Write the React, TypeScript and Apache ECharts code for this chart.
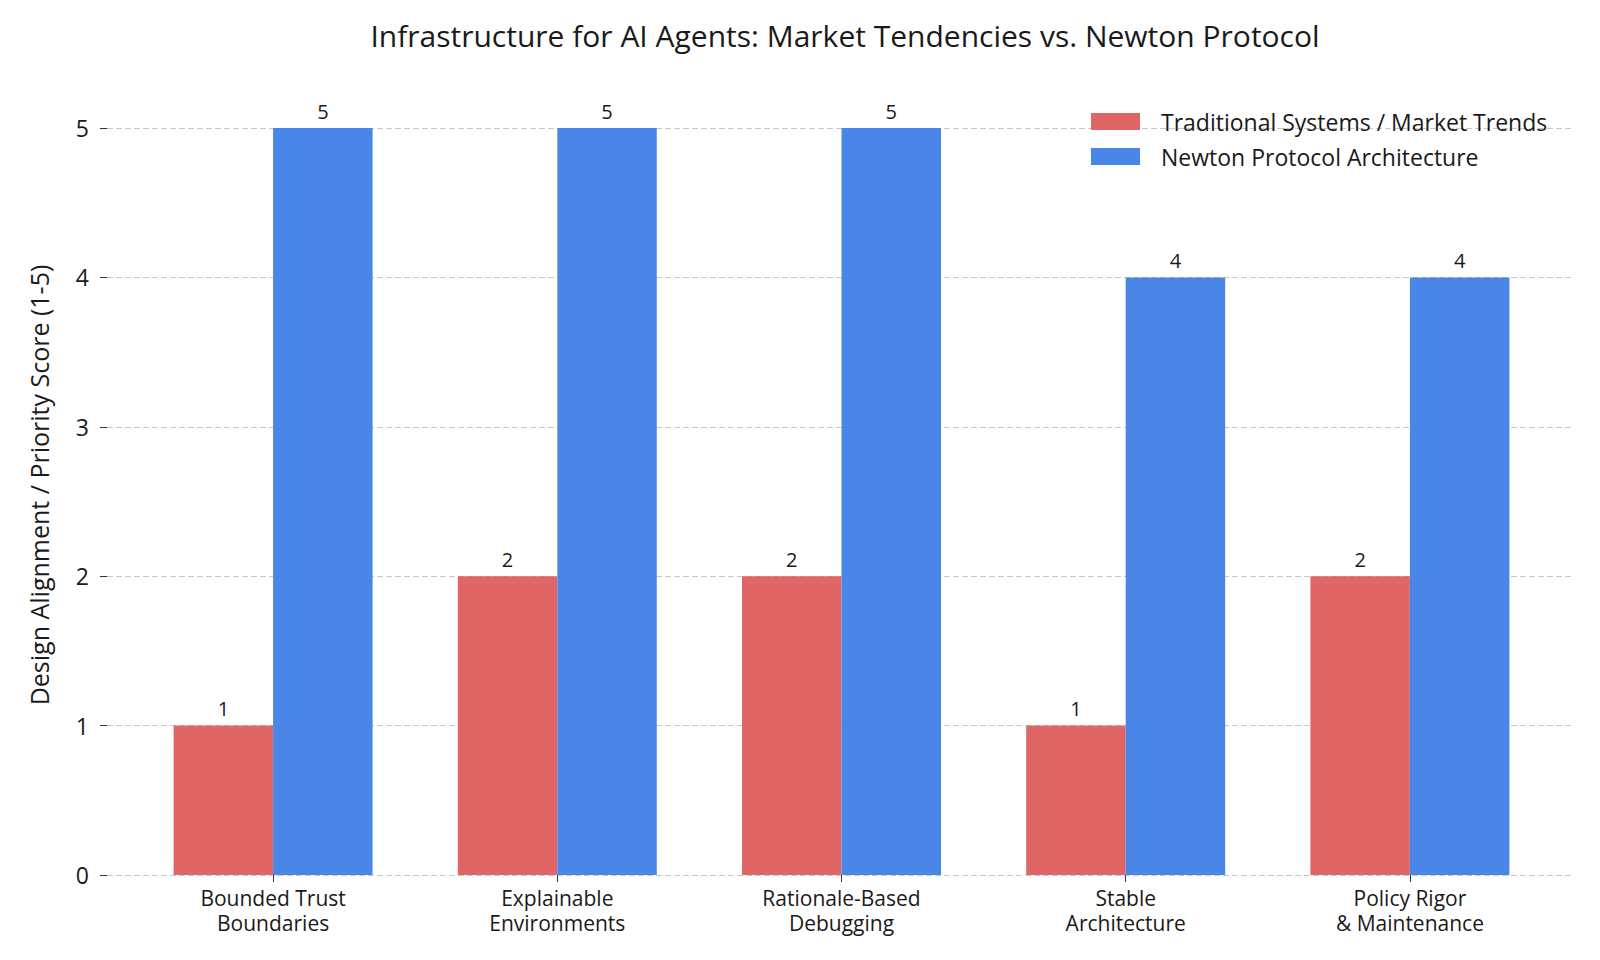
import React, { useEffect, useRef } from "react";
import * as echarts from "echarts";

const categories = [
  "Bounded Trust\nBoundaries",
  "Explainable\nEnvironments",
  "Rationale-Based\nDebugging",
  "Stable\nArchitecture",
  "Policy Rigor\n& Maintenance",
];
const traditionalValues = [1, 2, 2, 1, 2];
const newtonValues = [5, 5, 5, 4, 4];
const seriesNames = ["Traditional Systems / Market Trends", "Newton Protocol Architecture"];
const yTicks = [0, 1, 2, 3, 4, 5];
const titleText = "Infrastructure for AI Agents: Market Tendencies vs. Newton Protocol";
const yAxisTitle = "Design Alignment / Priority Score (1-5)";

const FONT = "'Open Sans', Roboto, sans-serif";
const RED = "#E06666";
const BLUE = "#4A86E8";
const TEXT = "#1a1a1a";

export default function App() {
  const ref = useRef<HTMLDivElement>(null);
  useEffect(() => {
    document.body.style.margin = "0";
    const chart = echarts.init(ref.current!, undefined, { renderer: "svg" });
    const labelStyle = {
      show: true,
      position: "top" as const,
      distance: 7,
      fontSize: 20,
      color: TEXT,
      fontFamily: FONT,
    };
    chart.setOption({
      animation: false,
      backgroundColor: "#ffffff",
      textStyle: { fontFamily: FONT },
      title: {
        text: titleText,
        left: 840,
        top: 15,
        textAlign: "center",
        textStyle: { fontSize: 30, fontWeight: "normal", color: TEXT, fontFamily: FONT },
      },
      legend: {
        orient: "vertical",
        left: 1091,
        top: 110,
        padding: 0,
        itemWidth: 49,
        itemHeight: 17,
        itemGap: 12,
        icon: "rect",
        data: seriesNames,
        textStyle: { fontSize: 23, color: TEXT, fontFamily: FONT, padding: [0, 0, 0, 16] },
      },
      graphic: [
        {
          type: "text",
          x: 39,
          y: 485,
          rotation: Math.PI / 2,
          style: {
            text: yAxisTitle,
            fontSize: 25,
            fill: TEXT,
            fontFamily: FONT,
            align: "center",
            verticalAlign: "middle",
          },
        },
      ],
      grid: [
        { left: 107, right: 27, top: 128, bottom: 85 },
        { left: 131, right: 48, top: 128, bottom: 85 },
      ],
      xAxis: [
        { type: "value", gridIndex: 0, show: false, min: 0, max: 1 },
        {
          type: "category",
          gridIndex: 1,
          data: categories,
          axisLine: { show: false },
          axisTick: { show: true, alignWithLabel: true, length: 7, lineStyle: { color: "#333" } },
          axisLabel: { fontSize: 21, color: TEXT, fontFamily: FONT, margin: 10, lineHeight: 25 },
          splitLine: { show: false },
        },
      ],
      yAxis: [
        {
          type: "value",
          gridIndex: 0,
          min: yTicks[0],
          max: yTicks[yTicks.length - 1],
          interval: 1,
          axisLine: { show: false },
          axisTick: { show: true, length: 7, lineStyle: { color: "#333" } },
          axisLabel: { fontSize: 23, color: TEXT, fontFamily: FONT, margin: 18 },
          splitLine: { show: true, lineStyle: { color: "#c8c8c8", type: [6, 3], width: 1 } },
        },
        {
          type: "value",
          gridIndex: 1,
          min: yTicks[0],
          max: yTicks[yTicks.length - 1],
          interval: 1,
          show: false,
          splitLine: { show: false },
        },
      ],
      series: [
        {
          name: seriesNames[0],
          type: "bar",
          xAxisIndex: 1,
          yAxisIndex: 1,
          data: traditionalValues,
          barWidth: 99.5,
          barGap: "0%",
          itemStyle: { color: RED },
          label: labelStyle,
        },
        {
          name: seriesNames[1],
          type: "bar",
          xAxisIndex: 1,
          yAxisIndex: 1,
          data: newtonValues,
          barWidth: 99.5,
          barGap: "0%",
          itemStyle: { color: BLUE },
          label: labelStyle,
        },
      ],
    });
    return () => chart.dispose();
  }, []);
  return (
    <div
      ref={ref}
      style={{ position: "fixed", left: 0, top: 0, width: 1600, height: 960 }}
    />
  );
}
